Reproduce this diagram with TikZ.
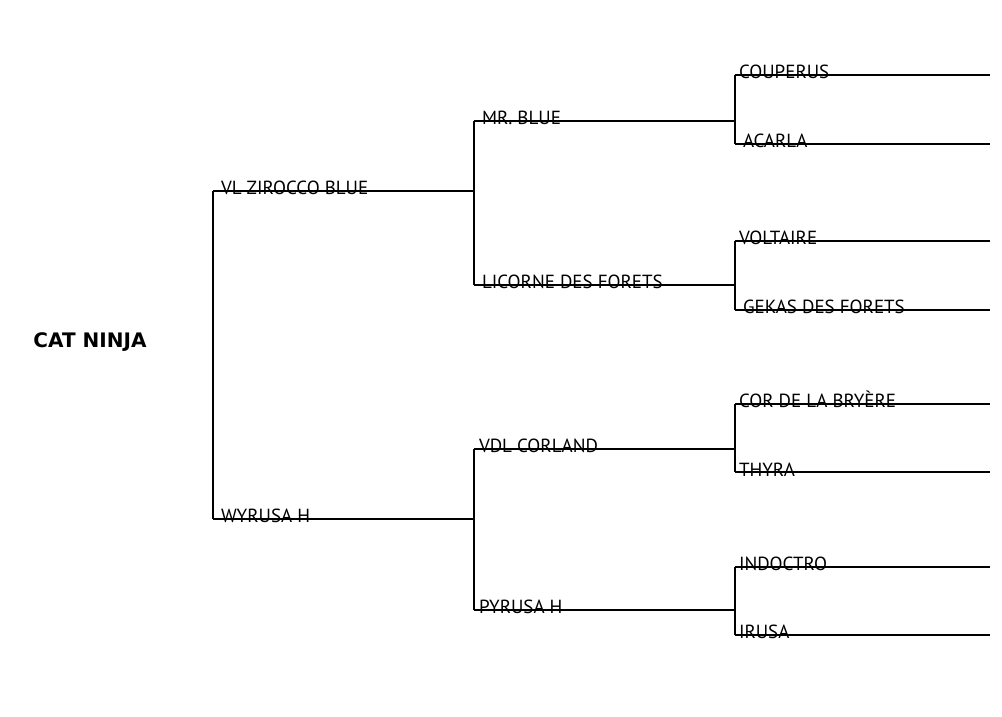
\documentclass[tikz,border=0pt]{standalone}
\usepackage{fontspec}
\setmainfont{PT Sans}
\newfontfamily\headfont{DejaVu Sans}
\begin{document}
\begin{tikzpicture}[x=1pt, y=-1pt, line width=2pt]
\tikzset{
    pname/.style= {anchor=south west, inner sep=0pt, font=\fontsize{19}{19}\selectfont},
    pline/.style= {line width=2pt},
}
\useasboundingbox (0,0) rectangle (1002,716);

\node[font=\headfont\bfseries\fontsize{20}{20}\selectfont, inner sep=0pt] (cat) at (90,342) {CAT NINJA};

% generation 1
\coordinate (zirocco) at (213,191);
\coordinate (wyrusa) at (213,519);
% generation 2
\coordinate (mrblue) at (474,121);
\coordinate (licorne) at (474,285);
\coordinate (corland) at (474,449);
\coordinate (pyrusa) at (474,610);
% generation 3
\coordinate (couperus) at (735,75);
\coordinate (acarla) at (735,144);
\coordinate (voltaire) at (735,241);
\coordinate (gekas) at (735,310);
\coordinate (cor) at (735,404);
\coordinate (thyra) at (735,472);
\coordinate (indoctro) at (735,567);
\coordinate (irusa) at (735,635);

\node[pname] at ([xshift=7pt, yshift=-5pt]zirocco) {VL ZIROCCO BLUE};
\node[pname] at ([xshift=7pt, yshift=-5pt]wyrusa) {WYRUSA H};
\node[pname] at ([xshift=7pt, yshift=-5pt]mrblue) {MR. BLUE};
\node[pname] at ([xshift=7pt, yshift=-5pt]licorne) {LICORNE DES FORETS};
\node[pname] at ([xshift=4pt, yshift=-5pt]corland) {VDL CORLAND};
\node[pname] at ([xshift=4pt, yshift=-5pt]pyrusa) {PYRUSA H};
\node[pname] at ([xshift=3pt, yshift=-5pt]couperus) {COUPERUS};
\node[pname] at ([xshift=7pt, yshift=-5pt]acarla) {ACARLA};
\node[pname] at ([xshift=3pt, yshift=-5pt]voltaire) {VOLTAIRE};
\node[pname] at ([xshift=7pt, yshift=-5pt]gekas) {GEKAS DES FORETS};
\node[pname] at ([xshift=3pt, yshift=-5pt]cor) {COR DE LA BRYÈRE};
\node[pname] at ([xshift=3pt, yshift=-5pt]thyra) {THYRA};
\node[pname] at ([xshift=3pt, yshift=-5pt]indoctro) {INDOCTRO};
\node[pname] at ([xshift=3pt, yshift=-5pt]irusa) {IRUSA};

\draw[pline] (zirocco) -- (wyrusa);
\draw[pline] (mrblue) -- (licorne);
\draw[pline] (corland) -- (pyrusa);
\draw[pline] (couperus) -- (acarla);
\draw[pline] (voltaire) -- (gekas);
\draw[pline] (cor) -- (thyra);
\draw[pline] (indoctro) -- (irusa);

\draw[pline] (zirocco) -- (zirocco -| mrblue);
\draw[pline] (wyrusa) -- (wyrusa -| mrblue);
\draw[pline] (mrblue) -- (mrblue -| acarla);
\draw[pline] (licorne) -- (licorne -| acarla);
\draw[pline] (corland) -- (corland -| acarla);
\draw[pline] (pyrusa) -- (pyrusa -| acarla);
\foreach \h in {couperus, acarla, voltaire, gekas, cor, thyra, indoctro, irusa}
    \draw[pline] (\h) -- ++(255,0);
\end{tikzpicture}
\end{document}
